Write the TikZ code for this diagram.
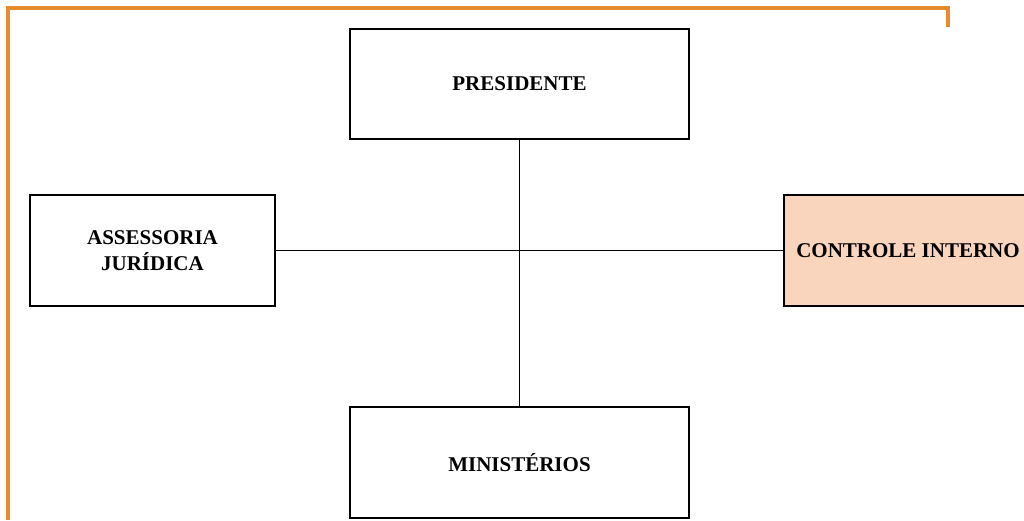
\documentclass[tikz,border=0pt]{standalone}
\usepackage{fontspec}
\setmainfont{Liberation Serif}
\definecolor{frameorange}{HTML}{E88A2E}
\definecolor{ctrlfill}{HTML}{F8D5BC}
\begin{document}
\begin{tikzpicture}[x=1pt,y=-1pt,
  box/.style={draw=black,line width=1.6pt,inner sep=0pt,align=center,
    font=\fontsize{21}{26}\selectfont\bfseries,fill=white},
  conn/.style={draw=black,line width=1.8pt}]
\useasboundingbox (0,0) rectangle (1024,520);
\clip (0,0) rectangle (1024,520);
\draw[frameorange,line width=3.2pt] (8,520) -- (8,8) -- (948,8) -- (948,27);
\node[box,minimum width=339pt,minimum height=110pt] (pres) at (519.5,84) {PRESIDENTE};
\node[box,minimum width=245pt,minimum height=111pt] (ass) at (152.5,250.5) {ASSESSORIA\\JURÍDICA};
\node[box,fill=ctrlfill,minimum width=248pt,minimum height=111pt] (ctrl) at (908,250.5) {CONTROLE INTERNO};
\node[box,minimum width=339pt,minimum height=111pt] (min) at (519.5,462.5) {MINISTÉRIOS};
\draw[conn] (ass.east) -- (ctrl.west);
\draw[conn] (pres.south) -- (min.north);
\end{tikzpicture}
\end{document}
